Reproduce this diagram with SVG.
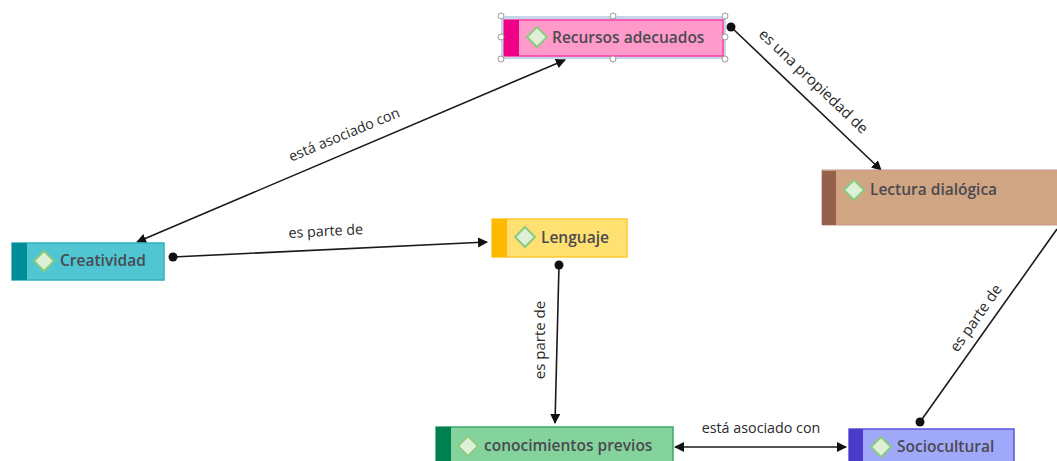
<svg xmlns="http://www.w3.org/2000/svg" width="1057" height="461" viewBox="0 0 1057 461">
<style>
text{font-family:"Open Sans","Noto Sans","Liberation Sans",sans-serif}
.n{font-size:15.5px;font-weight:600;fill:#4a4a50}
.l{font-size:14.3px;fill:#2a2a2a}
.m{font-size:15px}
.c{stroke:#1a1a1a;stroke-width:1.6;fill:none}
.d{fill:#dff0d8;stroke:#8ccb7e;stroke-width:2}
.h{fill:#fff;stroke:#999;stroke-width:1}
</style>
<defs>
<marker id="a" markerWidth="12" markerHeight="12" refX="9" refY="5" orient="auto" markerUnits="userSpaceOnUse"><path d="M0 0L10 5L0 10Z" fill="#111"/></marker>
<marker id="as" markerWidth="12" markerHeight="12" refX="1" refY="5" orient="auto" markerUnits="userSpaceOnUse"><path d="M10 0L0 5L10 10Z" fill="#111"/></marker>
</defs>
<g id="connectors">
<path class="c" d="M565 60L137 242" marker-end="url(#a)" marker-start="url(#as)"/>
<path class="c" d="M731 27L881 170" marker-end="url(#a)"/><circle cx="731" cy="27" r="4.5" fill="#111"/>
<path class="c" d="M173 257L487 242" marker-end="url(#a)"/><circle cx="173" cy="257" r="4.5" fill="#111"/>
<path class="c" d="M559 265L555 423" marker-end="url(#a)"/><circle cx="559" cy="265" r="4.5" fill="#111"/>
<path class="c" d="M920 422L1057 229"/><circle cx="920" cy="422" r="4.5" fill="#111"/>
<path class="c" d="M675 447L846 447" marker-start="url(#as)" marker-end="url(#a)"/>
<text class="l" transform="translate(346 139) rotate(-22.5)" text-anchor="middle">está asociado con</text>
<text class="l m" transform="translate(810 85) rotate(43.5)" text-anchor="middle">es una propiedad de</text>
<text class="l" x="326" y="236" transform="rotate(-3 326 236)" text-anchor="middle">es parte de</text>
<text class="l m" transform="translate(545 340) rotate(-90)" text-anchor="middle">es parte de</text>
<text class="l m" transform="translate(980 321) rotate(-55)" text-anchor="middle">es parte de</text>
<text class="l" x="761" y="433" text-anchor="middle">está asociado con</text>
</g>
<g id="recursos">
<rect x="501" y="16" width="225" height="43" fill="#c5d6ea"/>
<rect x="504" y="20" width="219" height="36" fill="#ff9acb" stroke="#ff3ea0" stroke-width="1.5"/>
<rect x="504" y="20" width="15" height="36" fill="#ee0088"/>
<path class="d" d="M537 27L547 37L537 47L527 37Z"/>
<text class="n" x="552" y="43">Recursos adecuados</text>
<g class="hs"><circle class="h" cx="501" cy="16" r="3"/><circle class="h" cx="613" cy="16" r="3"/><circle class="h" cx="725" cy="16" r="3"/><circle class="h" cx="501" cy="37" r="3"/><circle class="h" cx="725" cy="37" r="3"/><circle class="h" cx="501" cy="59" r="3"/><circle class="h" cx="613" cy="59" r="3"/><circle class="h" cx="725" cy="59" r="3"/></g>
</g>
<g id="lectura">
<rect x="822" y="170" width="236" height="55" fill="#cfa584" stroke="#c4978f" stroke-width="1"/>
<rect x="822" y="171" width="14" height="54" fill="#96604a"/>
<path class="d" d="M854 180L864 190L854 200L844 190Z"/>
<text class="n" x="870" y="195">Lectura dialógica</text>
</g>
<g id="creatividad">
<rect x="12" y="243" width="152" height="37" fill="#4fc6d2" stroke="#2fb3bf" stroke-width="1.5"/>
<rect x="12" y="243" width="15" height="37" fill="#008c99"/>
<path class="d" d="M44 251L54 261L44 271L34 261Z"/>
<text class="n" x="60" y="266">Creatividad</text>
</g>
<g id="lenguaje">
<rect x="492" y="219" width="135" height="38" fill="#ffe070" stroke="#ffc832" stroke-width="1.5"/>
<rect x="492" y="219" width="15" height="38" fill="#ffb900"/>
<path class="d" d="M525 227L535 237L525 247L515 237Z"/>
<text class="n" x="541" y="243">Lenguaje</text>
</g>
<g id="conocimientos">
<rect x="436" y="427" width="237" height="40" fill="#84d29c" stroke="#3ea56d" stroke-width="1.5"/>
<rect x="436" y="427" width="15" height="40" fill="#008050"/>
<path class="d" d="M468 436L478 446L468 456L458 446Z"/>
<text class="n" x="484" y="451">conocimientos previos</text>
</g>
<g id="sociocultural">
<rect x="849" y="429" width="165" height="40" fill="#a0a8fa" stroke="#5a55d8" stroke-width="1.5"/>
<rect x="849" y="429" width="14" height="40" fill="#4a3cc8"/>
<path class="d" d="M881 437L891 447L881 457L871 447Z"/>
<text class="n" x="897" y="452">Sociocultural</text>
</g>
</svg>
